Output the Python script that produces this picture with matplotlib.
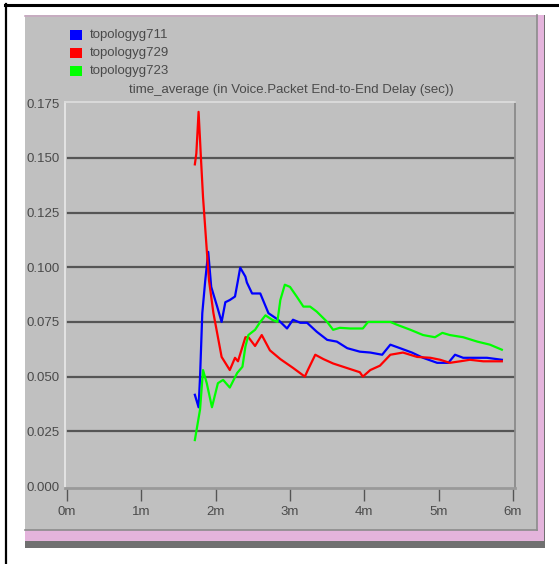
import matplotlib
matplotlib.use("Agg")
import matplotlib.pyplot as plt
from matplotlib.patches import Rectangle
from matplotlib.lines import Line2D

# time in minutes, delay in seconds (time-averaged)
t_711 = [1.72, 1.77, 1.79, 1.82, 1.86, 1.90, 1.94, 2.02, 2.08, 2.13, 2.19, 2.26, 2.30,
         2.33, 2.40, 2.42, 2.49, 2.60, 2.71, 2.84, 2.96, 3.04, 3.14, 3.23, 3.36, 3.50,
         3.63, 3.77, 3.94, 4.08, 4.24, 4.35, 4.48, 4.64, 4.79, 4.98, 5.13, 5.22, 5.33,
         5.49, 5.65, 5.85]
d_711 = [0.0417, 0.036, 0.050, 0.079, 0.094, 0.107, 0.091, 0.082, 0.075, 0.084, 0.085,
         0.0866, 0.094, 0.0998, 0.0957, 0.093, 0.088, 0.088, 0.079, 0.076, 0.072, 0.076,
         0.0746, 0.0746, 0.0705, 0.0668, 0.066, 0.063, 0.0614, 0.061, 0.060, 0.0646,
         0.063, 0.061, 0.0586, 0.0563, 0.0563, 0.060, 0.0586, 0.0586, 0.0586, 0.0577]

t_729 = [1.72, 1.74, 1.77, 1.79, 1.80, 1.83, 1.88, 1.91, 1.97, 2.08, 2.19, 2.26, 2.30,
         2.40, 2.44, 2.53, 2.62, 2.73, 2.87, 3.04, 3.20, 3.24, 3.34, 3.45, 3.58, 3.76,
         3.94, 3.98, 4.08, 4.21, 4.35, 4.52, 4.71, 4.89, 5.02, 5.15, 5.29, 5.42, 5.60,
         5.85]
d_729 = [0.147, 0.152, 0.171, 0.158, 0.151, 0.132, 0.108, 0.094, 0.079, 0.059, 0.053,
         0.0586, 0.057, 0.068, 0.068, 0.064, 0.069, 0.062, 0.058, 0.054, 0.050, 0.053,
         0.060, 0.058, 0.056, 0.054, 0.052, 0.050, 0.053, 0.055, 0.060, 0.061, 0.059,
         0.0586, 0.0577, 0.0563, 0.057, 0.0577, 0.057, 0.057]

t_723 = [1.72, 1.79, 1.83, 1.88, 1.95, 2.03, 2.10, 2.19, 2.29, 2.36, 2.40, 2.44, 2.53,
         2.60, 2.67, 2.76, 2.83, 2.87, 2.93, 3.00, 3.09, 3.18, 3.27, 3.36, 3.50, 3.58,
         3.67, 3.81, 3.98, 4.05, 4.35, 4.44, 4.62, 4.79, 4.95, 5.05, 5.15, 5.33, 5.52,
         5.69, 5.85]
d_723 = [0.021, 0.035, 0.053, 0.047, 0.036, 0.047, 0.0485, 0.045, 0.0517, 0.0545,
         0.0637, 0.069, 0.0714, 0.075, 0.078, 0.076, 0.075, 0.085, 0.092, 0.091, 0.0866,
         0.082, 0.082, 0.0797, 0.075, 0.0714, 0.0723, 0.072, 0.072, 0.075, 0.075, 0.0737,
         0.0714, 0.069, 0.068, 0.070, 0.069, 0.068, 0.066, 0.0646, 0.0623]

names = ["topologyg711", "topologyg729", "topologyg723"]
colors = ["#0000ff", "#ff0000", "#00ff00"]
series = [(t_711, d_711), (t_729, d_729), (t_723, d_723)]
y_ticks = [0.000, 0.025, 0.050, 0.075, 0.100, 0.125, 0.150, 0.175]
x_ticks = [0, 1, 2, 3, 4, 5, 6]
x_labels = ["0m", "1m", "2m", "3m", "4m", "5m", "6m"]
title = "time_average (in Voice.Packet End-to-End Delay (sec))"

W, H = 559, 564
fig = plt.figure(figsize=(W / 100, H / 100), dpi=100)
fig.patch.set_facecolor("white")
font = ["Liberation Sans Narrow", "Liberation Sans", "DejaVu Sans"]
fs = 9.5
txt = "#4a4a4a"


def box(x, y, w, h, color, z=-5):
    # pixel box (top-left origin) -> figure fraction rectangle
    fig.add_artist(Rectangle((x / W, 1 - (y + h) / H), w / W, h / H,
                             transform=fig.transFigure, facecolor=color,
                             edgecolor="none", zorder=z))


def hline(x0, x1, y, color, lw):
    fig.add_artist(Line2D([x0 / W, x1 / W], [1 - y / H, 1 - y / H],
                          transform=fig.transFigure, color=color, lw=lw, zorder=-1))


def vline(x, y0, y1, color, lw):
    fig.add_artist(Line2D([x / W, x / W], [1 - y0 / H, 1 - y1 / H],
                          transform=fig.transFigure, color=color, lw=lw, zorder=-1))


# window frame and grey panel
box(25, 15, 520, 533, "#707070", z=-6)
box(25, 15, 519, 526, "#e4b4dc", z=-5)
box(25, 15, 512, 515, "#c0c0c0", z=-4)
hline(25, 537, 15.5, "#c8a8c0", 1.2)
hline(25, 537, 530, "#8c8c8c", 1.2)
vline(537, 15, 530, "#8c8c8c", 1.2)
hline(5, W, 4.5, "black", 2.2)
vline(5.5, 4, H, "black", 1.6)

# plot area
ax = fig.add_axes([65 / W, 1 - 488 / H, 450 / W, 386 / H])
ax.set_facecolor("#c0c0c0")
for (t, d), c in zip(series, colors):
    ax.plot(t, d, color=c, lw=1.6, zorder=3)

for v in y_ticks[1:-1]:
    ax.axhline(v, xmin=0.007, color="#555555", lw=1.6, zorder=2)

ax.set_xlim(-0.027, 6.027)
ax.set_ylim(-0.0009, 0.1755)
ax.set_xticks(x_ticks)
ax.set_xticklabels(x_labels, fontfamily=font, fontsize=fs, color=txt)
ax.set_yticks(y_ticks)
ax.set_yticklabels(["%.3f" % v for v in y_ticks], fontfamily=font, fontsize=fs,
                   color=txt)
ax.tick_params(axis="x", length=9, width=1.0, color="#555555", pad=4)
ax.tick_params(axis="y", length=0, pad=4)
ax.spines["left"].set_color("#e6e6e6")
ax.spines["top"].set_color("#dcdcdc")
ax.spines["right"].set_color("#8a8a8a")
ax.spines["bottom"].set_color("#999999")
for s in ["left", "top", "right"]:
    ax.spines[s].set_linewidth(1.3)
ax.spines["bottom"].set_linewidth(2.0)

# legend and title above the plot
for i, (n, c) in enumerate(zip(names, colors)):
    yc = 35 + i * 17.8
    box(70, yc - 5, 12, 10, c, z=2)
    fig.text(90 / W, 1 - yc / H, n, fontfamily=font, fontsize=fs,
             color=txt, va="center", ha="left")
fig.text(291 / W, 1 - 90 / H, title, fontfamily=font, fontsize=fs,
         color=txt, va="center", ha="center")

fig.savefig("out.png", dpi=100)
